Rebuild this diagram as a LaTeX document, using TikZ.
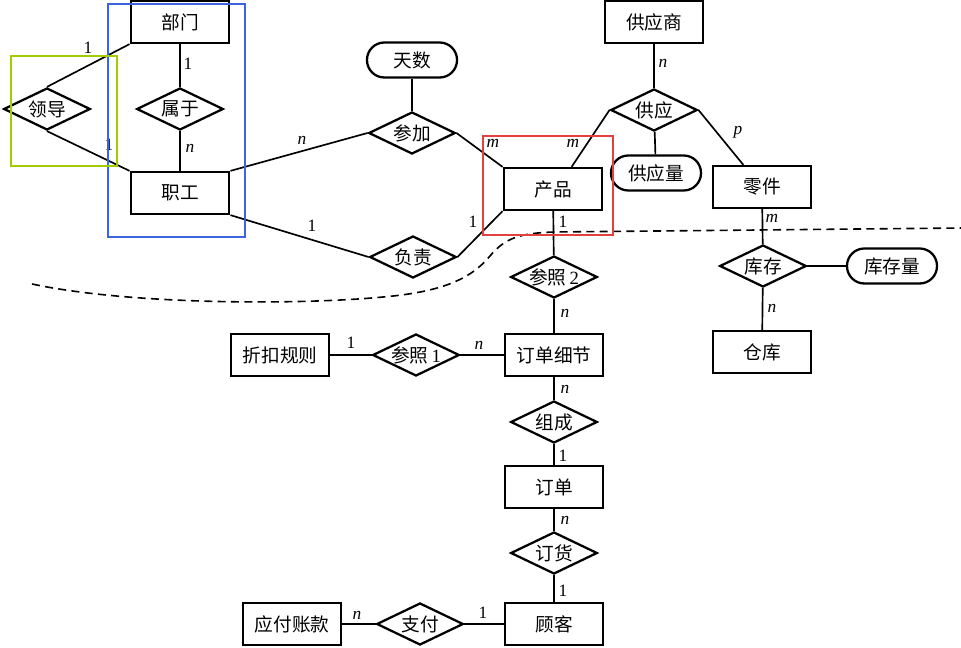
\documentclass[tikz,border=0pt]{standalone}
\usepackage{fontspec}
\setmainfont{Liberation Serif}
\newfontfamily\cjkfont{Noto Sans CJK SC}
\usetikzlibrary{shapes.geometric,calc}
\definecolor{boxblue}{RGB}{60,100,220}
\definecolor{boxgreen}{RGB}{160,204,0}
\definecolor{boxred}{RGB}{228,64,64}
\begin{document}
\begin{tikzpicture}[x=0.75pt,y=-0.75pt,
  cjktext/.style={font=\cjkfont\fontsize{14}{16}\selectfont},
  entbox/.style={draw,line width=1.7pt,rectangle,minimum width=74pt,minimum height=31.5pt,inner sep=0pt,cjktext},
  relbox/.style={draw,line width=1.7pt,diamond,minimum width=65pt,minimum height=31.5pt,inner sep=0pt},
  reltext/.style={cjktext,inner sep=0pt},
  attrbox/.style={draw,line width=1.7pt,rectangle,rounded corners=13pt,minimum width=67.5pt,minimum height=26.25pt,inner sep=0pt,cjktext},
  conn/.style={line width=1.25pt},
  cardlbl/.style={font=\fontsize{13}{15}\selectfont,inner sep=0pt},
  frame/.style={line width=0.8pt},
]
\useasboundingbox (0,0) rectangle (961,648);

% entities
\node[entbox] (bumen) at (180,22) {部门};
\node[entbox] (zhigong) at (180,193) {职工};
\node[entbox] (chanpin) at (553,189) {产品};
\node[entbox] (gys) at (654,22) {供应商};
\node[entbox] (lingjian) at (762,187) {零件};
\node[entbox] (cangku) at (762,352) {仓库};
\node[entbox] (zkgz) at (280,355) {折扣规则};
\node[entbox] (ddxj) at (554,355) {订单细节};
\node[entbox] (dingdan) at (554,487) {订单};
\node[entbox] (guke) at (554,624) {顾客};
\node[entbox] (yfzk) at (292,624) {应付账款};

% relationships
\node[relbox] (lingdao) at (47,109) {};
\node[reltext] (lingdaot) at (lingdao) {领导};
\node[relbox] (shuyu) at (180,109) {};
\node[reltext] (shuyut) at (shuyu) {属于};
\node[relbox] (canjia) at (412,133) {};
\node[reltext] (canjiat) at (canjia) {参加};
\node[relbox] (fuze) at (413,257) {};
\node[reltext] (fuzet) at (fuze) {负责};
\node[relbox] (gongying) at (654,110) {};
\node[reltext] (gongyingt) at (gongying) {供应};
\node[relbox] (kucun) at (763,266) {};
\node[reltext] (kucunt) at (kucun) {库存};
\node[relbox] (cz2) at (554,277) {};
\node[reltext] (cz2t) at (cz2) {参照\,{\rmfamily 2}};
\node[relbox] (cz1) at (416,355) {};
\node[reltext] (cz1t) at (cz1) {参照\,{\rmfamily 1}};
\node[relbox] (zucheng) at (554,422) {};
\node[reltext] (zuchengt) at (zucheng) {组成};
\node[relbox] (dinghuo) at (554,553) {};
\node[reltext] (dinghuot) at (dinghuo) {订货};
\node[relbox] (zhifu) at (420,624) {};
\node[reltext] (zhifut) at (zhifu) {支付};

% attributes
\node[attrbox] (tianshu) at (412,60) {天数};
\node[attrbox] (gyl) at (656,173) {供应量};
\node[attrbox] (kcl) at (892,266) {库存量};

% connectors
\draw[conn] (lingdao.north) -- (bumen.south west);
\draw[conn] (lingdao.south) -- (zhigong.north west);
\draw[conn] (bumen) -- (shuyu);
\draw[conn] (shuyu) -- (zhigong);
\draw[conn] (zhigong.north east) -- (canjia.west);
\draw[conn] (tianshu) -- (canjia);
\draw[conn] (canjia.east) -- (chanpin.north west);
\draw[conn] (zhigong.south east) -- (fuze.west);
\draw[conn] (fuze.east) -- (chanpin.south west);
\draw[conn] (gys) -- (gongying);
\coordinate (cptop) at ($(chanpin.north)+(14pt,0)$);
\draw[conn] (gongying.west) -- (cptop);
\draw[conn] (gongying) -- (gyl);
\coordinate (ljtop) at ($(lingjian.north)+(-14pt,0)$);
\draw[conn] (gongying.east) -- (ljtop);
\draw[conn] (lingjian) -- (kucun);
\draw[conn] (kucun) -- (cangku);
\draw[conn] (kucun) -- (kcl);
\draw[conn] (chanpin) -- (cz2);
\draw[conn] (cz2) -- (ddxj);
\draw[conn] (zkgz) -- (cz1);
\draw[conn] (cz1) -- (ddxj);
\draw[conn] (ddxj) -- (zucheng);
\draw[conn] (zucheng) -- (dingdan);
\draw[conn] (dingdan) -- (dinghuo);
\draw[conn] (dinghuo) -- (guke);
\draw[conn] (yfzk) -- (zhifu);
\draw[conn] (zhifu) -- (guke);

% cardinalities
\node[cardlbl] (c1) at (88,48) {1};
\node[cardlbl] (c2) at (109,145) {1};
\node[cardlbl] (c3) at (188,64) {1};
\node[cardlbl] (c4) at (190,148) {\textit{n}};
\node[cardlbl] (c5) at (302,140) {\textit{n}};
\node[cardlbl] (c6) at (312,226) {1};
\node[cardlbl] (c7) at (493,143) {\textit{m}};
\node[cardlbl] (c8) at (473,222) {1};
\node[cardlbl] (c9) at (573,143) {\textit{m}};
\node[cardlbl] (c10) at (563,222) {1};
\node[cardlbl] (c11) at (663,63) {\textit{n}};
\node[cardlbl] (c12) at (738,132) {\textit{p}};
\node[cardlbl] (c13) at (772,218) {\textit{m}};
\node[cardlbl] (c14) at (772,308) {\textit{n}};
\node[cardlbl] (c15) at (565,313) {\textit{n}};
\node[cardlbl] (c16) at (351,343) {1};
\node[cardlbl] (c17) at (479,345) {\textit{n}};
\node[cardlbl] (c18) at (565,389) {\textit{n}};
\node[cardlbl] (c19) at (563,456) {1};
\node[cardlbl] (c20) at (565,520) {\textit{n}};
\node[cardlbl] (c21) at (563,591) {1};
\node[cardlbl] (c22) at (357,615) {\textit{n}};
\node[cardlbl] (c23) at (483,613) {1};

% dashed boundary
\draw[line width=1.2pt,dash pattern=on 6pt off 4pt]
  (32,284) .. controls (130,305) and (300,305) .. (383,297)
  .. controls (440,292) and (470,280) .. (490,256)
  .. controls (505,238) and (520,233) .. (555,232) -- (961,228);

% highlight frames
\draw[frame,boxblue] (108,4) rectangle (245,237);
\draw[frame,boxgreen] (11,56) rectangle (117,166);
\draw[frame,boxred] (483,136) rectangle (613,235);
\end{tikzpicture}
\end{document}
